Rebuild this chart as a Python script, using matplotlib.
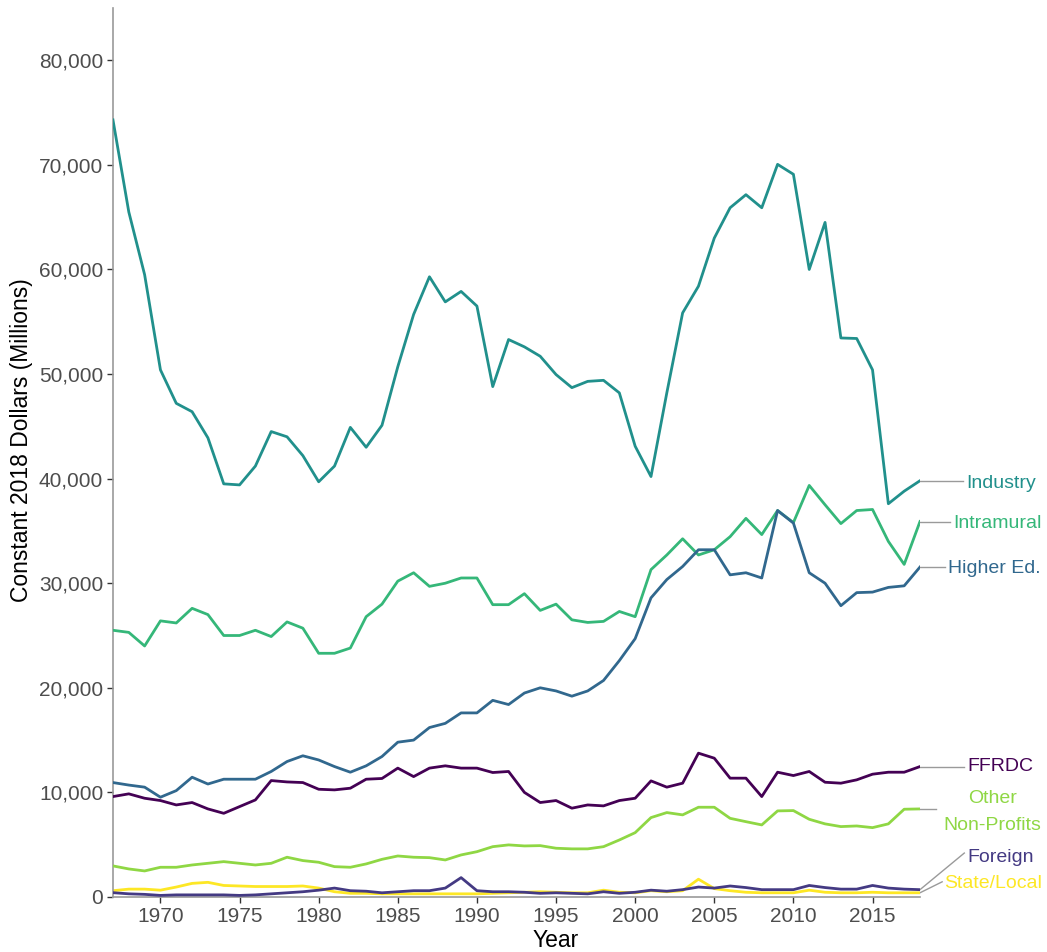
import matplotlib
matplotlib.use("Agg")
import matplotlib.pyplot as plt
from matplotlib.ticker import FuncFormatter

plt.rcParams['font.family'] = ['Liberation Sans', 'DejaVu Sans']

years = list(range(1967, 2019))

industry = [74300, 65500, 59500, 50400, 47200, 46400, 43900, 39500, 39400, 41200,
            44500, 44000, 42200, 39700, 41200, 44900, 43000, 45100, 50700, 55700,
            59300, 56900, 57900, 56500, 48800, 53300, 52600, 51700, 49950, 48700,
            49300, 49400, 48200, 43100, 40200, 48200, 55850, 58400, 63000, 65900,
            67150, 65900, 70050, 69100, 60000, 64500, 53450, 53400, 50400, 37600,
            38800, 39800]

intramural = [25500, 25300, 24000, 26400, 26200, 27600, 27000, 25000, 25000, 25500,
              24900, 26300, 25700, 23300, 23300, 23800, 26800, 28000, 30200, 31000,
              29700, 30000, 30500, 30500, 27950, 27950, 29000, 27400, 28000, 26500,
              26250, 26350, 27300, 26800, 31300, 32700, 34250, 32700, 33200, 34450,
              36200, 34650, 36950, 35800, 39350, 37500, 35700, 36950, 37050, 34000,
              31800, 35900]

higher_ed = [10940, 10700, 10500, 9540, 10170, 11450, 10800, 11260, 11260, 11260,
             12000, 12950, 13500, 13100, 12470, 11930, 12540, 13430, 14800, 15000,
             16200, 16600, 17600, 17600, 18800, 18400, 19500, 20000, 19700, 19200,
             19700, 20700, 22600, 24700, 28600, 30350, 31600, 33200, 33200, 30800,
             31000, 30500, 36950, 35750, 31000, 30000, 27850, 29100, 29150, 29600,
             29750, 31550]

ffrdc = [9600, 9860, 9440, 9220, 8800, 9030, 8420, 8000, 8640, 9280,
         11130, 11000, 10940, 10300, 10240, 10400, 11260, 11330, 12320, 11510,
         12320, 12540, 12320, 12320, 11900, 12000, 10000, 9030, 9220, 8490,
         8800, 8710, 9220, 9440, 11100, 10500, 10880, 13750, 13270, 11360,
         11360, 9600, 11930, 11610, 12000, 10970, 10880, 11200, 11740, 11930,
         11930, 12470]

other_np = [2970, 2680, 2490, 2840, 2840, 3060, 3220, 3380, 3220, 3060,
            3220, 3800, 3480, 3320, 2900, 2840, 3160, 3600, 3920, 3800,
            3760, 3540, 4020, 4330, 4810, 4980, 4880, 4910, 4660, 4600,
            4600, 4810, 5450, 6150, 7590, 8070, 7850, 8580, 8580, 7520,
            7200, 6890, 8230, 8260, 7430, 6990, 6730, 6790, 6630, 6990,
            8390, 8420]

foreign = [410, 300, 250, 150, 200, 200, 200, 200, 150, 200,
           300, 400, 500, 650, 850, 600, 550, 400, 500, 600,
           600, 850, 1850, 600, 500, 500, 450, 350, 400, 350,
           300, 500, 350, 450, 650, 550, 700, 950, 850, 1050,
           900, 700, 700, 700, 1100, 900, 750, 750, 1100, 850,
           750, 700]

state_local = [600, 750, 750, 650, 950, 1300, 1400, 1100, 1050, 1000,
               1000, 1000, 1050, 850, 500, 350, 350, 300, 300, 300,
               300, 300, 300, 300, 350, 400, 450, 500, 450, 400,
               400, 650, 450, 400, 600, 500, 600, 1700, 800, 600,
               450, 400, 400, 400, 650, 450, 400, 400, 450, 400,
               400, 400]

series_names = ["FFRDC", "Foreign", "Higher Ed.", "Industry", "Intramural",
                "Other\nNon-Profits", "State/Local"]
series_values = [ffrdc, foreign, higher_ed, industry, intramural, other_np, state_local]
colors = ["#440154", "#443A83", "#31688E", "#21908C", "#35B779", "#8FD744", "#FDE725"]

# label placement (text position in data coords, leader end point, alignment)
label_pos = {
    "Industry": ((2020.9, 39500), (2020.7, 39800), 'left'),
    "Intramural": ((2020.1, 35700), (2019.9, 35900), 'left'),
    "Higher Ed.": ((2019.8, 31400), (2019.6, 31550), 'left'),
    "FFRDC": ((2021.0, 12500), (2020.8, 12470), 'left'),
    "Other\nNon-Profits": ((2022.6, 8150), (2019.0, 8420), 'center'),
    "Foreign": ((2021.0, 3750), (2020.8, 4200), 'left'),
    "State/Local": ((2019.5, 1250), (2019.4, 1450), 'left'),
}

fig = plt.figure(figsize=(10.47, 9.52), dpi=100)
ax = fig.add_axes([0.1079, 0.0578, 0.7708, 0.9338])

draw_order = [3, 4, 2, 0, 5, 1, 6]
for i in draw_order:
    ax.plot(years, series_values[i], color=colors[i], lw=2.0, solid_joinstyle='round',
            zorder=3 if i != 6 else 2)

for name, vals, col in zip(series_names, series_values, colors):
    (tx, ty), (lx, ly), ha = label_pos[name]
    ax.plot([years[-1], lx], [vals[-1], ly], color="#9a9a9a", lw=1.0, clip_on=False, zorder=1)
    ax.text(tx, ty, name, color=col, fontsize=14, ha=ha, va='center',
            linespacing=1.75, clip_on=False)

ax.set_xlim(1967, 2018)
ax.set_ylim(0, 85000)
ax.set_xticks([1970, 1975, 1980, 1985, 1990, 1995, 2000, 2005, 2010, 2015])
ax.set_yticks([0, 10000, 20000, 30000, 40000, 50000, 60000, 70000, 80000])
ax.yaxis.set_major_formatter(FuncFormatter(lambda v, p: f"{int(v):,}"))

for s in ['top', 'right']:
    ax.spines[s].set_visible(False)
for s in ['left', 'bottom']:
    ax.spines[s].set_color('#999999')
    ax.spines[s].set_linewidth(1.2)

ax.tick_params(axis='both', colors='#333333', labelcolor='#4d4d4d', length=4,
               width=1, labelsize=15, pad=3)
ax.set_xlabel("Year", fontsize=16.5, color='black')
ax.set_ylabel("Constant 2018 Dollars (Millions)", fontsize=16.5, color='black')
ax.xaxis.set_label_coords(0.549, -0.036)
ax.yaxis.set_label_coords(-0.099, 0.514)

fig.savefig("out.png", dpi=100)
